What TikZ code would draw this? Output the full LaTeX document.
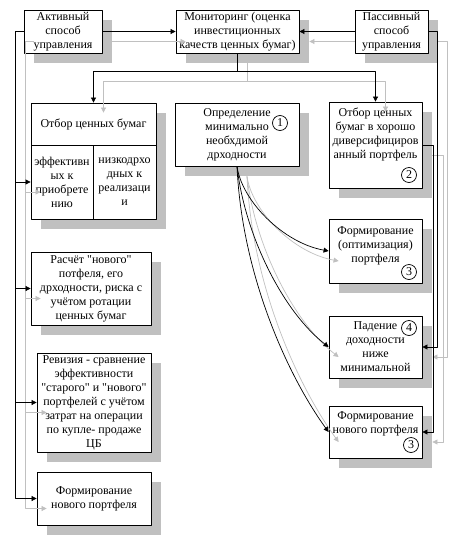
\documentclass[tikz,border=0pt]{standalone}
\usepackage{fontspec}
\setmainfont{Liberation Serif}
\usetikzlibrary{arrows.meta}
\definecolor{shadowgray}{RGB}{192,192,192}
\tikzset{
	box/.style={draw, fill=white, line width=0.8pt, align=center, inner sep=1pt,
		font=\fontsize{12}{14}\selectfont},
	shade/.style={draw=none, fill=shadowgray, inner sep=0pt},
	txt/.style={align=center, inner sep=0pt, font=\fontsize{12}{14}\selectfont},
	num/.style={draw, circle, line width=0.7pt, inner sep=0pt, minimum size=15pt,
		font=\fontsize{12}{14}\selectfont},
	link/.style={draw, ->, line width=0.7pt},
	ghost/.style={draw=shadowgray, ->, line width=0.7pt},
	sh/.style={xshift=10pt, yshift=-10pt},
}
\newcommand{\qq}{\textquotedbl}
\begin{document}
\begin{tikzpicture}[x=1pt, y=-1pt, line join=round, >={Triangle[length=5pt,width=5pt]}]
	\useasboundingbox (0,0) rectangle (458,536);
	% shadows of the boxes (centre x, centre y, width, height)
	\foreach \sx/\sy/\sw/\sht [count=\k] in {63/31.5/78/43, 237.5/31.5/123/43, 391.5/31.5/73/43,
		93.5/161/125/116, 91/288.5/120/73, 94/402.5/114/99, 94/498.5/114/53,
		237/134.5/124/63, 375.5/145/93/86, 375.5/251/93/64, 375.5/347/93/62, 375.5/432/93/52}
	\node[shade, minimum width=\sw pt, minimum height=\sht pt] (shade\k) at (\sx+10,\sy+10) {};
	% top row
	\node[box, minimum width=78pt, minimum height=43pt] (A) at (63,31.5) {Активный\\способ\\управления};
	\node[box, minimum width=123pt, minimum height=43pt] (M) at (237.5,31.5) {Мониторинг (оценка\\инвестиционных\\качеств ценных бумаг)};
	\node[box, minimum width=73pt, minimum height=43pt] (P) at (391.5,31.5) {Пассивный\\способ\\управления};
	% left column
	\node[box, minimum width=125pt, minimum height=42pt] (Bt) at (93.5,124) {Отбор ценных бумаг};
	\node[box, minimum width=62pt, minimum height=74pt] (Bl) at (62,182) {эффективн\\ых к\\приобрете\\нию};
	\node[box, minimum width=63pt, minimum height=74pt] (Br) at (124.5,182) {низкодрхо\\дных к\\реализаци\\и};
	\node[box, minimum width=120pt, minimum height=73pt] (G) at (91,288.5) {Расчёт \qq нового\qq\\потфеля, его\\дрходности, риска с\\учётом ротации\\ценных бумаг};
	\node[box, minimum width=114pt, minimum height=99pt] (H) at (94,402.5) {Ревизия - сравнение\\эффективности\\\qq старого\qq{} и \qq нового\qq\\портфелей с учётом\\затрат на операции\\по купле- продаже\\ЦБ};
	\node[box, minimum width=114pt, minimum height=53pt] (I) at (94,498.5) {Формирование\\нового портфеля};
	% right part
	\node[box, minimum width=124pt, minimum height=63pt] (C) at (237,134.5) {Определение\\минимально\\необхдимой\\дрходности};
	\node[box, minimum width=93pt, minimum height=86pt] (S) at (375.5,145) {};
	\node[txt] (St) at (375.5,134) {Отбор ценных\\бумаг в хорошо\\диверсифициров\\анный портфель};
	\node[box, minimum width=93pt, minimum height=64pt] (D) at (375.5,251) {};
	\node[txt] (Dt) at (375.5,246) {Формирование\\(оптимизация)\\портфеля};
	\node[box, minimum width=93pt, minimum height=62pt] (E) at (375.5,347) {Падение\\доходности\\ниже\\минимальной};
	\node[box, minimum width=93pt, minimum height=52pt] (F) at (375.5,432) {};
	\node[txt] (Ft) at (375.5,424) {Формирование\\нового портфеля};
	% step numbers
	\node[num] (n1) at (280,123) {1};
	\node[num] (n2) at (409,175) {2};
	\node[num] (n3) at (409,272) {3};
	\node[num] (n4) at (409,328) {4};
	\node[num] (n5) at (411,445) {3};
	% bus points
	\coordinate (lbus) at ([xshift=-8pt]A.west);
	\coordinate (rbus) at ([xshift=9pt]P.east);
	\coordinate (sbus) at ([xshift=11pt]S.east);
	\coordinate (mbus) at ([yshift=-18pt]M.south);
	% grey shadows of the connectors
	\draw[ghost] ([sh]A.west) -- ([sh]lbus) |- ([sh]I.west);
	\draw[ghost] ([sh]A.west) -- ([sh]lbus) |- ([sh]H.west);
	\draw[ghost] ([sh]A.west) -- ([sh]lbus) |- ([sh]G.west);
	\draw[ghost] ([sh]A.west) -- ([sh]lbus) |- ([sh]Bl.west);
	\draw[ghost] ([sh]A.east) -- ([sh]M.west);
	\draw[ghost] ([yshift=-10pt]P.west) -- ([sh]M.east);
	\draw[ghost] ([sh]P.east) -- ([sh]rbus) |- ([sh]E.east);
	\draw[ghost] ([sh]S.east) -- ([sh]sbus) |- ([sh]F.east);
	\draw[ghost] ([sh]M.south) -- ([sh]mbus) -| ([sh]Bt.north);
	\draw[ghost] ([sh]M.south) -- ([sh]mbus) -| ([sh]S.north);
	\draw[ghost] ([sh]C.south) .. controls +(5,110) and +(-40,-55) .. ([sh]F.west);
	\draw[ghost] ([sh]C.south) .. controls +(8,70) and +(-45,-35) .. ([sh]E.west);
	\draw[ghost] ([sh]C.south) .. controls +(5,35) and +(-45,-8) .. ([sh]D.west);
	% connectors
	\draw[link] (A.west) -- (lbus) |- (I.west);
	\draw[link] (A.west) -- (lbus) |- (H.west);
	\draw[link] (A.west) -- (lbus) |- (G.west);
	\draw[link] (A.west) -- (lbus) |- (Bl.west);
	\draw[link] (A.east) -- (M.west);
	\draw[link] (P.west) -- (M.east);
	\draw[link] (P.east) -- (rbus) |- (E.east);
	\draw[link] (S.east) -- (sbus) |- (F.east);
	\draw[link] (M.south) -- (mbus) -| (Bt.north);
	\draw[link] (M.south) -- (mbus) -| (S.north);
	\draw[link] (C.south) .. controls +(5,110) and +(-40,-55) .. (F.west);
	\draw[link] (C.south) .. controls +(8,70) and +(-45,-35) .. (E.west);
	\draw[link] (C.south) .. controls +(5,35) and +(-45,-8) .. (D.west);
\end{tikzpicture}
\end{document}
